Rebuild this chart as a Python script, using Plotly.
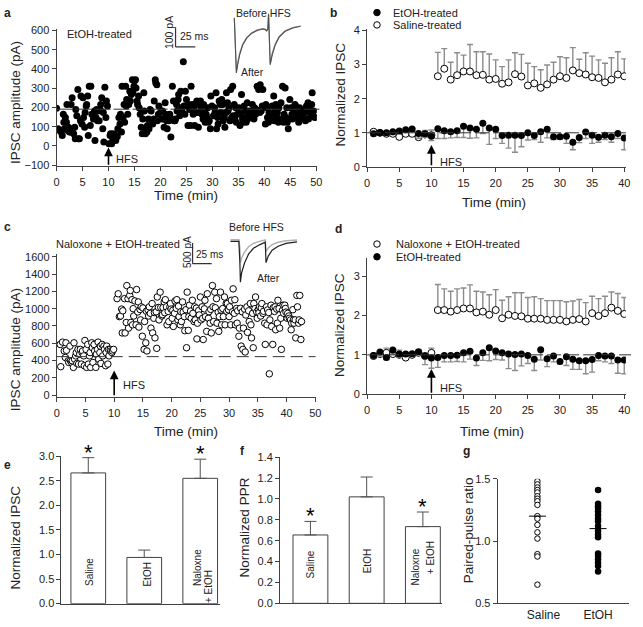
import plotly.graph_objects as go

W, H = 643, 627
FONT = "Liberation Sans, Arial, sans-serif"
AX = "#404040"
TXT = "#222222"

# ---------------- data ----------------
hfs_min = 10

# panel a : EtOH-treated, IPSC amplitude (pA) vs time (min)
a_time = [0.0,0.3,0.6,0.9,1.1,1.3,1.4,1.5,1.7,1.9,2.0,2.2,2.3,2.5,2.7,2.8,3.0,3.1,3.3,3.5,
          3.6,3.7,3.9,4.1,4.2,4.4,4.6,4.7,4.9,5.1,
          5.2,5.4,5.5,5.7,5.8,6.0,6.1,6.3,6.5,6.6,6.8,6.9,7.1,7.3,7.4,7.6,7.7,7.9,8.0,8.2,
          8.4,8.5,8.7,8.9,9.0,9.1,9.3,9.5,9.6,9.8,
          10.1,10.3,10.4,10.6,10.8,10.9,11.1,11.2,11.4,11.5,11.7,11.8,12.0,12.2,12.3,12.5,12.6,12.8,13.0,13.1,
          13.3,13.4,13.5,13.7,13.9,14.1,14.2,14.4,14.6,14.7,14.9,15.0,
          15.2,15.3,15.5,15.6,15.8,15.9,16.1,16.3,16.5,16.6,16.8,16.9,17.1,17.2,17.4,17.5,17.7,17.8,18.0,18.2,
          18.4,18.5,18.7,18.8,19.0,19.1,19.3,19.4,19.6,19.7,
          20.1,20.3,20.4,20.6,20.7,20.9,21.0,21.2,21.3,21.5,21.6,21.8,22.0,22.2,22.3,22.5,22.6,22.8,22.9,23.1,
          23.2,23.4,23.5,23.7,23.9,24.1,24.2,24.4,24.5,24.7,24.8,
          25.0,25.1,25.3,25.4,25.6,25.8,25.9,26.1,26.3,26.4,26.6,26.7,26.9,27.0,27.2,27.3,27.5,27.7,27.8,28.0,
          28.2,28.3,28.5,28.6,28.8,28.9,29.1,29.2,29.4,29.6,29.7,29.9,
          30.2,30.4,30.5,30.7,30.8,31.0,31.1,31.3,31.5,31.6,31.8,32.0,32.1,32.3,32.4,32.6,32.7,32.9,33.0,33.2,
          33.4,33.5,33.7,33.9,34.0,34.2,34.3,34.5,34.6,34.8,
          35.1,35.3,35.4,35.6,35.8,35.9,36.1,36.2,36.4,36.5,36.7,36.8,37.0,37.2,37.3,37.5,37.7,37.8,38.0,38.1,
          38.3,38.4,38.6,38.7,38.9,39.1,39.2,39.4,39.6,39.7,
          40.2,40.3,40.5,40.6,40.8,40.9,41.1,41.3,41.5,41.6,41.8,41.9,42.1,42.2,42.4,42.5,42.7,42.8,43.0,43.2,
          43.4,43.5,43.7,43.8,44.0,44.1,44.3,44.4,44.6,44.7,44.9,
          45.1,45.3,45.4,45.6,45.7,45.9,46.0,46.2,46.3,46.5,46.6,46.8,47.0,47.2,47.3,47.5,47.6,47.8,47.9,48.1,
          48.2,48.4,48.5,48.7,48.9,49.1,49.2,49.4,49.5,49.7]
a_amp = [196,89,80,72,55,165,123,89,148,123,216,80,97,72,72,216,250,89,63,97,
         37,190,157,293,37,37,131,259,114,250,
         148,97,174,208,216,259,55,310,106,310,165,165,140,182,29,148,190,131,182,131,
         190,216,250,89,174,20,305,148,233,208,
         12,55,63,12,29,63,37,46,29,55,49,89,148,114,165,72,310,148,216,123,
         310,208,242,165,216,284,233,267,344,276,310,339,
         344,301,233,216,259,199,165,97,63,140,276,182,63,89,72,106,140,89,190,182,
         131,114,140,233,344,327,318,131,165,208,
         182,140,182,140,97,225,165,131,89,140,131,165,46,140,310,233,131,131,140,216,
         182,242,267,157,284,199,174,438,208,165,284,
         242,208,106,216,190,106,310,216,165,199,106,216,174,233,216,97,174,233,199,165,
         140,216,182,123,165,148,199,123,131,89,259,208,
         157,199,174,276,89,148,114,233,216,174,242,216,131,148,97,174,276,225,182,199,
         131,293,148,310,157,216,140,199,123,165,
         199,106,165,267,140,123,208,182,148,123,225,140,182,165,165,157,216,182,140,199,
         165,190,310,182,293,174,318,182,208,293,
         114,216,199,148,123,174,140,165,208,165,259,131,182,216,148,174,123,199,140,225,
         131,310,123,165,301,148,199,123,89,140,242,
         199,165,140,190,157,216,208,148,174,165,123,199,140,190,174,165,148,182,131,208,
         182,225,140,190,165,216,276,157,182,148]
a_baseline = 191
a_yticks = [-100, 0, 100, 200, 300, 400, 500, 600]
a_xticks = [0, 5, 10, 15, 20, 25, 30, 35, 40, 45, 50]

# panel a inset traces (ms, pA) and scale bar
a_trace_ms = [2.0, 4.6, 6.2, 8.7, 12.5, 17.5, 23.7, 31.0, 38.0, 41.0, 43.0, 44.5, 45.4, 47.5, 50.0, 53.7, 58.7, 66.0, 76.0, 86.0]
a_trace_after = [40, -241, -200, -150, -100, -65, -40, -25, -17, -20, -27, -18, 60, -200, -150, -100, -60, -30, -12, -3]
a_trace_before = [35, -232, -190, -142, -95, -61, -37, -22, -15, -18, -25, -16, 55, -192, -142, -95, -56, -27, -10, -2]
a_scale_ms, a_scale_pA = 25, 100

# panel b : normalized IPSC, EtOH vs Saline
b_minutes = [1,2,3,4,5,6,7,8,9,10,11,12,13,14,15,16,17,18,19,20,21,22,23,24,25,26,27,28,29,30,31,32,33,34,35,36,37,38,39,40,41]
b_saline = [1.03,1.00,0.97,0.97,0.88,0.97,0.97,0.87,0.95,0.93,
            2.66,2.88,2.56,2.69,2.80,2.80,2.69,2.70,2.56,2.58,
            2.44,2.48,2.72,2.65,2.39,2.45,2.32,2.42,2.56,2.66,
            2.61,2.83,2.75,2.71,2.63,2.61,2.48,2.56,2.71,2.66,2.66]
b_saline_err = [0.04,0.05,0.05,0.06,0.10,0.05,0.06,0.10,0.12,0.15,
                0.70,0.59,0.51,0.66,0.48,0.79,0.69,0.68,0.75,0.56,
                0.50,0.66,0.63,0.65,0.65,0.49,0.53,0.57,0.51,0.57,
                0.59,0.67,0.41,0.64,0.62,0.53,0.56,0.64,0.67,0.51,0.67]
b_etoh = [0.97,1.00,1.00,1.03,1.05,1.09,1.11,0.98,0.97,0.90,
          1.12,1.06,1.03,1.06,1.19,1.14,1.10,1.28,1.14,1.10,
          0.92,0.93,0.93,0.92,1.00,0.92,1.03,1.10,0.88,0.88,
          0.90,0.72,0.86,1.02,0.93,0.87,0.93,0.88,0.98,0.85,0.88]
b_etoh_err = [0.05,0.05,0.05,0.08,0.06,0.05,0.05,0.14,0.10,0.13,
              0.29,0.23,0.18,0.20,0.33,0.30,0.25,0.30,0.48,0.27,
              0.23,0.38,0.50,0.33,0.21,0.12,0.31,0.25,0.08,0.06,
              0.21,0.22,0.15,0.19,0.24,0.15,0.13,0.16,0.15,0.35,0.26]

# panel c : Naloxone + EtOH-treated
c_time = [0.6,0.7,1.0,1.3,1.5,1.6,1.7,2.0,2.1,2.3,2.4,2.6,2.7,2.9,3.0,3.1,3.3,3.4,3.5,3.7,
          3.8,4.0,4.1,4.3,4.4,4.5,4.7,4.8,4.9,5.1,5.2,5.4,5.5,5.7,5.8,5.9,6.1,6.2,6.3,6.5,
          6.6,6.8,6.9,7.1,7.2,7.3,7.5,7.6,7.7,7.9,8.0,8.2,8.3,8.5,8.6,8.7,8.9,9.0,9.1,9.3,
          9.4,9.6,9.7,9.9,
          10.5,10.7,10.9,11.1,11.3,11.4,11.5,11.8,11.9,12.1,
          12.2,12.4,12.5,12.7,12.8,12.9,13.1,13.2,13.3,13.4,
          13.6,13.8,13.9,14.1,14.2,14.3,14.5,14.6,14.7,14.9,
          15.0,15.2,15.3,15.5,15.6,15.7,15.9,16.0,16.1,16.3,
          16.4,16.6,16.7,16.9,17.0,17.1,17.3,17.4,17.5,17.7,
          17.8,18.0,18.1,18.3,18.4,18.5,18.7,18.8,18.9,19.1,
          19.2,19.4,19.5,19.7,19.8,19.9,20.1,20.2,20.3,20.5,
          20.6,20.8,20.9,21.1,21.2,21.3,21.5,21.6,21.7,21.9,
          22.0,22.2,22.3,22.5,22.6,22.7,22.9,23.0,23.1,23.3,
          23.4,23.6,23.7,23.9,24.0,24.1,24.3,24.4,24.5,24.7,
          24.8,25.0,25.1,25.3,25.4,25.5,25.7,25.8,25.9,26.1,
          26.2,26.4,26.5,26.7,26.8,26.9,27.1,27.2,27.3,27.5,
          27.6,27.8,27.9,28.1,28.2,28.3,28.5,28.6,28.7,28.9,
          29.0,29.2,29.3,29.5,29.6,29.7,29.9,30.0,30.1,30.3,
          30.4,30.6,30.7,30.9,31.0,31.1,31.3,31.4,31.5,31.7,
          31.8,32.0,32.1,32.3,32.4,32.5,32.7,32.8,32.9,33.1,
          33.2,33.4,33.5,33.7,33.8,33.9,34.1,34.2,34.3,34.5,
          34.6,34.8,34.9,35.1,35.2,35.3,35.5,35.6,35.7,35.9,
          36.0,36.2,36.3,36.5,36.6,36.7,36.9,37.0,37.1,37.3,
          37.4,37.6,37.7,37.9,38.0,38.1,38.3,38.4,38.5,38.7,
          38.8,39.0,39.1,39.3,39.4,39.5,39.7,39.8,39.9,40.1,
          40.2,40.4,40.5,40.7,40.8,40.9,41.1,41.2,41.3,41.5,
          41.6,41.8,41.9,42.1,42.2,42.3,42.5,42.6]
c_amp = [586,329,613,511,435,605,518,397,378,567,397,378,397,321,605,416,454,492,367,529,
         359,473,529,359,492,511,454,340,632,529,321,586,359,454,492,321,605,548,378,586,
         511,321,473,529,613,416,492,567,367,586,454,567,529,340,492,567,359,529,454,529,
         511,492,511,529,
         1116,1172,908,915,995,719,975,1116,719,840,
         1267,1116,775,1153,1210,840,1104,813,1000,915,
         1089,813,1221,962,1078,787,990,870,1021,681,
         1008,529,851,605,970,511,985,915,1021,946,
         775,1059,719,889,955,662,964,541,1135,1014,
         870,1191,1014,915,930,1012,1078,953,1104,1021,
         813,968,851,1021,1059,995,889,980,794,946,
         1089,1003,1104,870,1029,908,813,964,851,1078,
         960,908,745,988,548,1191,749,908,1040,972,
         889,1097,946,851,1021,870,1006,650,832,978,
         927,1135,870,1021,889,643,998,1097,908,737,
         1172,889,965,832,992,719,1267,1021,851,1191,
         1010,1116,832,958,737,908,1191,984,813,1001,
         908,1135,813,1059,969,1059,987,908,1021,813,
         1097,964,1229,946,1104,813,1002,832,976,681,
         775,1004,567,963,529,775,994,499,927,1021,
         726,975,851,1059,813,662,946,548,1059,1000,
         1135,962,889,990,953,1021,915,1008,1059,946,
         970,832,586,1021,813,985,955,246,870,1040,
         794,586,1012,968,1021,756,995,832,1097,1002,
         775,889,529,980,1040,946,1040,1002,960,889,
         946,915,889,870,756,832,988,870,832,870,
         662,1153,1021,832,870,1153,643,851]
c_baseline = 445
c_yticks = [0, 200, 400, 600, 800, 1000, 1200, 1400, 1600]
c_xticks = [0, 5, 10, 15, 20, 25, 30, 35, 40, 45]
c_xticktext = ["0", "5", "10", "15", "20", "25", "30", "35", "40", "50"]

# panel c inset traces (ms, pA) and scale bar
c_trace_ms = [-12, -1, 0.3, 1.0, 2.6, 6.4, 11.6, 18.0, 25.8, 32.2, 33.5, 34.5, 37.4, 42.5, 50.3, 60.6, 75.0]
c_trace_after = [0, 0, -500, -990, -760, -524, -310, -167, -83, -36, -20, -515, -357, -214, -119, -48, -12]
c_trace_before = [40, 40, -150, -515, -400, -260, -130, -50, 0, 25, 35, -240, -160, -80, -20, 15, 35]
c_scale_ms, c_scale_pA = 25, 500

# panel d : Naloxone + EtOH vs EtOH
d_minutes = b_minutes
d_nal = [0.97,1.02,1.05,1.02,1.00,0.93,1.00,1.05,0.97,1.05,
         2.14,2.14,2.10,2.14,2.18,2.18,2.08,2.10,2.02,2.14,
         1.93,2.02,1.99,1.98,1.92,1.92,1.92,1.89,1.89,1.89,
         1.85,1.89,1.91,1.85,2.06,1.99,2.06,2.20,2.12,2.04,2.06]
d_nal_err = [0.05,0.05,0.12,0.10,0.12,0.05,0.05,0.08,0.05,0.12,
             0.65,0.54,0.52,0.54,0.52,0.60,0.54,0.50,0.51,0.52,
             0.46,0.46,0.59,0.60,0.54,0.56,0.51,0.49,0.49,0.49,
             0.50,0.48,0.50,0.48,0.43,0.44,0.43,0.40,0.44,0.42,0.35]
d_etoh = [0.98,1.07,0.93,1.12,1.02,1.02,1.03,1.08,0.97,0.92,
          0.93,0.98,0.98,0.99,1.05,1.09,0.92,1.05,1.18,1.10,
          1.05,1.02,1.01,1.02,0.98,0.89,1.13,0.90,0.97,0.83,
          0.95,0.89,0.85,0.85,0.88,0.98,0.97,0.97,0.87,0.87,0.86]
d_etoh_err = [0.05,0.10,0.05,0.10,0.08,0.05,0.06,0.08,0.22,0.26,
              0.25,0.16,0.16,0.16,0.23,0.20,0.19,0.19,0.33,0.22,
              0.18,0.37,0.41,0.30,0.20,0.29,0.26,0.20,0.15,0.06,
              0.22,0.26,0.22,0.33,0.32,0.13,0.15,0.19,0.34,0.35,0.26]

# panel e : normalized IPSC
e_groups = ["Saline", "EtOH", "Naloxne + EtOH"]
e_vals = [2.66, 0.94, 2.55]
e_err = [0.31, 0.15, 0.39]
e_sig = [True, False, True]

# panel f : normalized PPR
f_vals = [0.655, 1.02, 0.735]
f_err = [0.13, 0.19, 0.14]
f_sig = [True, False, True]

# panel g : paired-pulse ratio
g_groups = ["Saline", "EtOH"]
g_saline = [1.48,1.455,1.43,1.41,1.39,1.36,1.34,1.32,1.29,1.20,1.18,1.13,1.07,1.02,0.895,0.876,0.65]
g_etoh = [1.41,1.30,1.28,1.26,1.24,1.21,1.18,1.16,1.12,1.08,1.05,1.03,0.90,0.88,0.855,0.825,0.80,0.755]
g_means = [1.20, 1.10]

assert len(a_time) == len(a_amp), (len(a_time), len(a_amp))
assert len(c_time) == len(c_amp), (len(c_time), len(c_amp))

# ---------------- helpers ----------------
def PX(x): return x / W
def PY(y): return 1 - y / H

def xax(x0, x1, rng, anchor, **kw):
    d = dict(domain=[PX(x0), PX(x1)], range=rng, anchor=anchor, showline=True, linecolor=AX,
             linewidth=1, ticks="outside", ticklen=4, tickcolor=AX, tickwidth=1,
             tickfont=dict(family=FONT, size=11, color=TXT), showgrid=False, zeroline=False,
             fixedrange=True)
    d.update(kw)
    return d

def yax(top, bottom, rng, anchor, **kw):
    d = dict(domain=[PY(bottom), PY(top)], range=rng, anchor=anchor, showline=True, linecolor=AX,
             linewidth=1, ticks="outside", ticklen=4, tickcolor=AX, tickwidth=1,
             tickfont=dict(family=FONT, size=11, color=TXT), showgrid=False, zeroline=False,
             fixedrange=True)
    d.update(kw)
    return d

def text(x, y, s, size=11, xanchor="center", yanchor="middle", angle=0, bold=False):
    return dict(x=PX(x), y=PY(y), xref="paper", yref="paper", text=("<b>%s</b>" % s if bold else s),
                showarrow=False, font=dict(family=FONT, size=size, color=TXT),
                xanchor=xanchor, yanchor=yanchor, textangle=angle)

def arrow(xr, yr, tip, base):
    return dict(x=hfs_min, y=tip, ax=hfs_min, ay=base, xref=xr, yref=yr, axref=xr, ayref=yr,
                showarrow=True, arrowhead=2, arrowsize=1.1, arrowwidth=1.6, arrowcolor="black", text="")

def dot(cx, cy, filled, r=3.3):
    return dict(type="circle", xref="paper", yref="paper", x0=PX(cx - r), x1=PX(cx + r),
                y0=PY(cy + r), y1=PY(cy - r), fillcolor="black" if filled else "white",
                line=dict(color="black", width=1))

fig = go.Figure()

# panel a
fig.add_trace(go.Scatter(x=a_time, y=a_amp, mode="markers", xaxis="x", yaxis="y",
                         marker=dict(size=7, color="black")))
# panel a inset
fig.add_trace(go.Scatter(x=a_trace_ms, y=a_trace_before, mode="lines", xaxis="x8", yaxis="y8",
                         line=dict(color="#9a9a9a", width=1.2)))
fig.add_trace(go.Scatter(x=a_trace_ms, y=a_trace_after, mode="lines", xaxis="x8", yaxis="y8",
                         line=dict(color="#505050", width=1.1)))

# panel b
fig.add_trace(go.Scatter(x=b_minutes, y=b_saline, mode="markers", xaxis="x2", yaxis="y2",
                         marker=dict(size=7, color="white", line=dict(color="black", width=1)),
                         error_y=dict(type="data", symmetric=False, array=b_saline_err,
                                      arrayminus=[0] * len(b_saline_err), color="#8c8c8c",
                                      thickness=1.4, width=3)))
fig.add_trace(go.Scatter(x=b_minutes, y=b_etoh, mode="markers", xaxis="x2", yaxis="y2",
                         marker=dict(size=7, color="black"),
                         error_y=dict(type="data", symmetric=False, array=[0] * len(b_etoh_err),
                                      arrayminus=b_etoh_err, color="#8c8c8c", thickness=1.4, width=3)))

# panel c
fig.add_trace(go.Scatter(x=c_time, y=c_amp, mode="markers", xaxis="x3", yaxis="y3",
                         marker=dict(size=6.5, color="white", line=dict(color="black", width=1))))
# panel c inset
fig.add_trace(go.Scatter(x=c_trace_ms, y=c_trace_before, mode="lines", xaxis="x9", yaxis="y9",
                         line=dict(color="#b0b0b0", width=1.4)))
fig.add_trace(go.Scatter(x=c_trace_ms, y=c_trace_after, mode="lines", xaxis="x9", yaxis="y9",
                         line=dict(color="#202020", width=1.2)))

# panel d
fig.add_trace(go.Scatter(x=d_minutes, y=d_nal, mode="markers", xaxis="x4", yaxis="y4",
                         marker=dict(size=7, color="white", line=dict(color="black", width=1)),
                         error_y=dict(type="data", symmetric=False, array=d_nal_err,
                                      arrayminus=[0] * len(d_nal_err), color="#8c8c8c",
                                      thickness=1.4, width=3)))
fig.add_trace(go.Scatter(x=d_minutes, y=d_etoh, mode="markers", xaxis="x4", yaxis="y4",
                         marker=dict(size=7, color="black"),
                         error_y=dict(type="data", symmetric=False, array=[0] * len(d_etoh_err),
                                      arrayminus=d_etoh_err, color="#8c8c8c", thickness=1.4, width=3)))

# panel e
idx3 = list(range(len(e_vals)))
fig.add_trace(go.Bar(x=idx3, y=e_vals, width=0.62, xaxis="x5", yaxis="y5",
                     marker=dict(color="white", line=dict(color="#404040", width=1)),
                     error_y=dict(type="data", symmetric=False, array=e_err, arrayminus=[0] * 3,
                                  color="#505050", thickness=1, width=6)))
# panel f
fig.add_trace(go.Bar(x=idx3, y=f_vals, width=0.62, xaxis="x6", yaxis="y6",
                     marker=dict(color="white", line=dict(color="#404040", width=1)),
                     error_y=dict(type="data", symmetric=False, array=f_err, arrayminus=[0] * 3,
                                  color="#505050", thickness=1, width=6)))
# panel g
fig.add_trace(go.Scatter(x=[0] * len(g_saline), y=g_saline, mode="markers", xaxis="x7", yaxis="y7",
                         marker=dict(size=5.5, color="white", line=dict(color="black", width=1))))
fig.add_trace(go.Scatter(x=[1] * len(g_etoh), y=g_etoh, mode="markers", xaxis="x7", yaxis="y7",
                         marker=dict(size=6.5, color="black")))

# ---------------- shapes ----------------
shapes = [
    dict(type="line", xref="x domain", yref="y", x0=0, x1=1.01, y0=a_baseline, y1=a_baseline,
         line=dict(color="#333", width=1, dash="16px,3px")),
    dict(type="line", xref="x2 domain", yref="y2", x0=0, x1=1, y0=1, y1=1,
         line=dict(color="#333", width=1, dash="14px,4px")),
    dict(type="line", xref="x3 domain", yref="y3", x0=0, x1=1, y0=c_baseline, y1=c_baseline,
         line=dict(color="#333", width=1, dash="12px,6px")),
    dict(type="line", xref="x4 domain", yref="y4", x0=0, x1=1.02, y0=1, y1=1,
         line=dict(color="#333", width=1, dash="14px,4px")),
]
# scale bars (inset axes units)
a_sb_x, a_sb_y = -72.5, -108.5
shapes += [
    dict(type="line", xref="x8", yref="y8", x0=a_sb_x, x1=a_sb_x, y0=a_sb_y, y1=a_sb_y + a_scale_pA,
         line=dict(color="#333", width=1.2)),
    dict(type="line", xref="x8", yref="y8", x0=a_sb_x, x1=a_sb_x + a_scale_ms, y0=a_sb_y, y1=a_sb_y,
         line=dict(color="#333", width=1.2)),
]
c_sb_x, c_sb_y = -61.5, -540
shapes += [
    dict(type="line", xref="x9", yref="y9", x0=c_sb_x, x1=c_sb_x, y0=c_sb_y, y1=c_sb_y + c_scale_pA,
         line=dict(color="#333", width=1.2)),
    dict(type="line", xref="x9", yref="y9", x0=c_sb_x, x1=c_sb_x + c_scale_ms, y0=c_sb_y, y1=c_sb_y,
         line=dict(color="#333", width=1.2)),
]
# mean lines in g
for i, m in enumerate(g_means):
    shapes.append(dict(type="line", xref="x7", yref="y7", x0=i - 0.14, x1=i + 0.14, y0=m, y1=m,
                       line=dict(color="black", width=1)))
# legend markers b, d
shapes += [dot(379.3, 6.7, True), dot(379.3, 19.3, False),
           dot(379.3, 242.7, False), dot(379.3, 255.7, True)]

# ---------------- annotations ----------------
ann = [
    text(5, 7, "a", 12, bold=True), text(335, 7, "b", 12, bold=True),
    text(5, 225, "c", 12, bold=True), text(340, 227, "d", 12, bold=True),
    text(5, 468, "e", 12, bold=True), text(243, 454, "f", 12, bold=True),
    text(470, 454, "g", 12, bold=True),
    # axis titles
    text(12, 98, "IPSC amplitude (pA)", 13.5, angle=-90),
    text(186, 193, "Time (min)", 13.5),
    text(342, 90, "Normalized IPSC", 13.5, angle=-90),
    text(498, 200, "Time (min)", 13.5),
    text(12, 350, "IPSC amplitude (pA)", 13.5, angle=-90),
    text(186, 434, "Time (min)", 13.5),
    text(342, 325, "Normalized IPSC", 13.5, angle=-90),
    text(496, 434, "Time (min)", 13.5),
    text(13, 542, "Normalized IPSC", 13.5, angle=-90),
    text(245, 532, "Normalized PPR", 13.5, angle=-90),
    text(472, 534, "Paired-pulse ratio", 13.5, angle=-90),
    # panel labels
    text(63, 29, "EtOH-treated", 11, xanchor="left"),
    text(52, 243, "Naloxone + EtOH-treated", 11, xanchor="left"),
    text(394, 7, "EtOH-treated", 11, xanchor="left"),
    text(394, 19.5, "Saline-treated", 11, xanchor="left"),
    text(397, 243, "Naloxone + EtOH-treated", 11, xanchor="left"),
    text(397, 256, "EtOH-treated", 11, xanchor="left"),
    # insets
    text(264, 7.5, "Before HFS", 10.5), text(253, 67, "After", 10.5),
    text(168.5, 27.5, "%d pA" % a_scale_pA, 10.5, angle=-90),
    text(194, 30.5, "%d ms" % a_scale_ms, 10.5),
    text(257.5, 225, "Before HFS", 10.5), text(269, 277, "After", 10.5),
    text(186.5, 251, "%d pA" % c_scale_pA, 10, angle=-90),
    text(209.5, 253.5, "%d ms" % c_scale_ms, 10),
    # HFS arrows & labels
    arrow("x", "y", -8, -105), arrow("x2", "y2", 0.64, 0),
    arrow("x3", "y3", 284, -18), arrow("x4", "y4", 0.64, 0),
    dict(x=11.1, y=-68, xref="x", yref="y", text="HFS", showarrow=False, xanchor="left",
         font=dict(family=FONT, size=11, color=TXT)),
    dict(x=11.0, y=0.15, xref="x2", yref="y2", text="HFS", showarrow=False, xanchor="left",
         font=dict(family=FONT, size=11, color=TXT)),
    dict(x=11.2, y=115, xref="x3", yref="y3", text="HFS", showarrow=False, xanchor="left",
         font=dict(family=FONT, size=11, color=TXT)),
    dict(x=11.0, y=0.16, xref="x4", yref="y4", text="HFS", showarrow=False, xanchor="left",
         font=dict(family=FONT, size=11, color=TXT)),
]
# bar labels (rotated, inside bars) e and f
ann += [
    text(88.3, 577, "Saline", 10, angle=-90), text(146.7, 580, "EtOH", 10, angle=-90),
    text(196.7, 572, "Naloxne", 10, angle=-90), text(208.3, 592, "+ EtOH", 10, angle=-90),
    text(311.7, 569, "Saline", 10, angle=-90), text(369.3, 566, "EtOH", 10, angle=-90),
    text(418.3, 572, "Naloxne", 10, angle=-90), text(433, 562, "+ EtOH", 10, angle=-90),
]
# significance asterisks
for i in range(3):
    if e_sig[i]:
        ann.append(dict(x=i, y=e_vals[i] + e_err[i], xref="x5", yref="y5", text="*", showarrow=False,
                        yanchor="bottom", yshift=-9, font=dict(family=FONT, size=22, color="black")))
    if f_sig[i]:
        ann.append(dict(x=i, y=f_vals[i] + f_err[i], xref="x6", yref="y6", text="*", showarrow=False,
                        yanchor="bottom", yshift=-9, font=dict(family=FONT, size=22, color="black")))

fig.update_layout(
    width=W, height=H, margin=dict(l=0, r=0, t=0, b=0),
    paper_bgcolor="white", plot_bgcolor="rgba(0,0,0,0)", showlegend=False,
    font=dict(family=FONT, color=TXT),
    xaxis=xax(54.3, 318.3, [0, 50.1], "y", tickvals=a_xticks, ticklabelstandoff=2),
    yaxis=yax(23, 163.3, [-105, 610], "x", tickvals=a_yticks),
    xaxis2=xax(369.3, 631.7, [0, 40.25], "y2", tickvals=[0, 5, 10, 15, 20, 25, 30, 35, 40], ticklabelstandoff=2),
    yaxis2=yax(23.3, 164, [0, 4.05], "x2", tickvals=[0, 1, 2, 3, 4]),
    xaxis3=xax(54.5, 317, [0, 45.05], "y3", tickvals=c_xticks, ticktext=c_xticktext, ticklabelstandoff=2),
    yaxis3=yax(253.3, 398.3, [-18, 1627], "x3", tickvals=c_yticks),
    xaxis4=xax(369.3, 631.7, [0, 40.25], "y4", tickvals=[0, 5, 10, 15, 20, 25, 30, 35, 40], ticklabelstandoff=2),
    yaxis4=yax(256.7, 395.7, [0, 3.47], "x4", tickvals=[0, 1, 2, 3]),
    xaxis5=xax(59.3, 220, [-0.479, 2.352], "y5", showticklabels=False, ticks=""),
    yaxis5=yax(459, 609.3, [0, 3.0], "x5", tickvals=[0, 0.5, 1.0, 1.5, 2.0, 2.5, 3.0], tickformat=".1f"),
    xaxis6=xax(281, 445, [-0.54, 2.336], "y6", showticklabels=False, ticks=""),
    yaxis6=yax(460, 609, [0, 1.4], "x6", tickvals=[0, 0.2, 0.4, 0.6, 0.8, 1.0, 1.2, 1.4], tickformat=".1f"),
    xaxis7=xax(501.7, 635, [-0.655, 1.512], "y7", tickvals=[0.1, 1.0], ticktext=g_groups, ticks="",
               tickfont=dict(family=FONT, size=12, color=TXT)),
    yaxis7=yax(482, 609, [0.5, 1.5], "x7", tickvals=[0.5, 1.0, 1.5], tickformat=".1f"),
    xaxis8=dict(domain=[PX(160), PX(310)], range=[-91.25, 96.25], visible=False, anchor="y8", fixedrange=True),
    yaxis8=dict(domain=[PY(80), PY(0)], range=[-300, 100], visible=False, anchor="x8", fixedrange=True),
    xaxis9=dict(domain=[PX(170), PX(320)], range=[-90.2, 103.1], visible=False, anchor="y9", fixedrange=True),
    yaxis9=dict(domain=[PY(300), PY(220)], range=[-1428, 476], visible=False, anchor="x9", fixedrange=True),
    shapes=shapes, annotations=ann,
)

fig.write_html("out.html", config={"displayModeBar": False},
               post_script="document.body.style.margin='0';document.body.style.overflow='hidden';")
